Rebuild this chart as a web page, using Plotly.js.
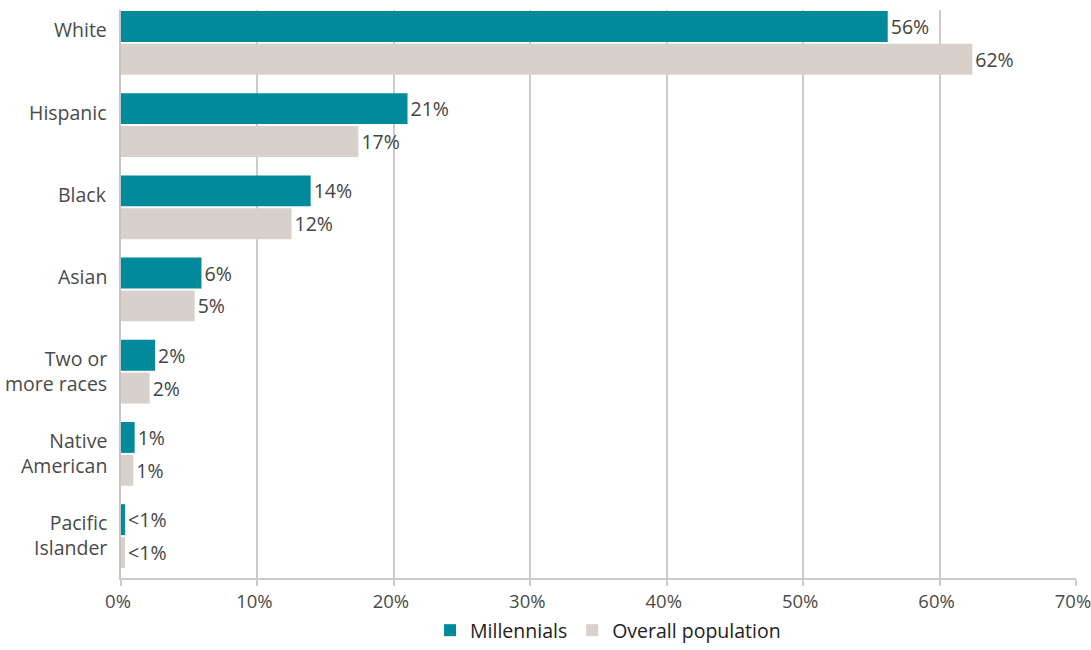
<!DOCTYPE html>
<html>
<head>
<meta charset="utf-8">
<script src="https://cdn.plot.ly/plotly-3.0.1.min.js"></script>
<style>html,body{margin:0;padding:0;background:#fff;}#chart{width:1091px;height:650px;}</style>
</head>
<body>
<div id="chart"></div>
<script>
const categories = ["White", "Hispanic", "Black", "Asian", "Two or<br>more races", "Native<br>American", "Pacific<br>Islander"];
const millennials = [56.2, 21.0, 13.9, 5.9, 2.5, 1.0, 0.3];
const overall = [62.4, 17.4, 12.5, 5.4, 2.1, 0.9, 0.3];
const millennialsLabels = ["56%", "21%", "14%", "6%", "2%", "1%", "<1%"];
const overallLabels = ["62%", "17%", "12%", "5%", "2%", "1%", "<1%"];
const xTickVals = [0, 10, 20, 30, 40, 50, 60, 70];
const xTickText = ["0%", "10%", "20%", "30%", "40%", "50%", "60%", "70%"];

const font = "'Open Sans', 'Noto Sans', sans-serif";
const fs = 19.5;
const traces = [
  {type: "bar", orientation: "h", name: "Millennials", y: categories, x: millennials,
   text: millennialsLabels, textposition: "outside", cliponaxis: false,
   textfont: {family: font, size: fs, color: "#444"},
   marker: {color: "#008a9c"}, hoverinfo: "skip"},
  {type: "bar", orientation: "h", name: "Overall population", y: categories, x: overall,
   text: overallLabels, textposition: "outside", cliponaxis: false,
   textfont: {family: font, size: fs, color: "#444"},
   marker: {color: "#d8d1cb"}, hoverinfo: "skip"}
];
// category labels as annotations: single-line labels sit level with the top bar
const annotations = categories.map(c => ({
  xref: "paper", x: 0, xanchor: "right", xshift: -12,
  yref: "y", y: c, yanchor: "middle", yshift: c.indexOf("<br>") >= 0 ? 1 : 13,
  text: c, showarrow: false, align: "right",
  font: {family: font, size: fs, color: "#4a4a4a"}
}));
const layout = {
  width: 1091, height: 650,
  margin: {l: 121, r: 15, t: 10, b: 72},
  paper_bgcolor: "#fff", plot_bgcolor: "#fff",
  barmode: "group", bargap: 0.2, bargroupgap: 0.06,
  font: {family: font, size: fs, color: "#444"},
  showlegend: true,
  legend: {orientation: "h", x: 0.51, xanchor: "center", yref: "container", y: -0.011, yanchor: "bottom",
           font: {family: font, size: fs, color: "#222"}, traceorder: "normal"},
  annotations: annotations,
  xaxis: {range: [0, 70], tickvals: xTickVals, ticktext: xTickText,
          showgrid: true, gridcolor: "#cccccc", gridwidth: 2,
          zeroline: false, showline: true, linecolor: "#cccccc", linewidth: 2,
          ticks: "outside", ticklen: 6, tickwidth: 2, tickcolor: "#cccccc",
          automargin: false, ticklabeloverflow: "allow", ticklabelshift: -3,
          tickfont: {family: font, size: 18.5, color: "#4a4a4a"}, fixedrange: true},
  yaxis: {type: "category", range: [6.51, -0.40], showgrid: false, zeroline: false,
          showline: true, linecolor: "#c4c4c4", linewidth: 2, ticks: "",
          showticklabels: false, automargin: false, fixedrange: true}
};
Plotly.newPlot("chart", traces, layout, {displayModeBar: false, staticPlot: true});
</script>
</body>
</html>
